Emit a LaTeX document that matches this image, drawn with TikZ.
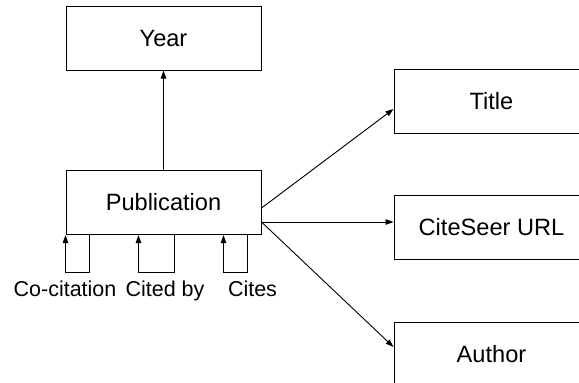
\documentclass[tikz,border=0pt]{standalone}
\usepackage{fontspec}
\setmainfont{Liberation Sans}
\usetikzlibrary{arrows.meta}
\begin{document}
\begin{tikzpicture}[x=1pt,y=-1pt,
  box/.style={draw=black,line width=1pt,minimum width=195pt,minimum height=64pt,inner sep=0pt,font=\fontsize{23.6}{28}\selectfont},
  lbl/.style={inner sep=0pt,anchor=base,font=\fontsize{21.5}{26}\selectfont},
  arr/.style={line width=0.9pt,-{Triangle[length=8pt,width=5.5pt]}},
  loopline/.style={line width=0.9pt,-{Triangle[length=8pt,width=5.5pt]}}]
\clip (0,0) rectangle (579,383);
\node[box] (year) at (163.5,38) {Year};
\node[box] (pub) at (163.5,202.5) {Publication};
\node[box] (title) at (491.5,101.5) {Title};
\node[box] (url) at (491.5,227.5) {CiteSeer URL};
\node[box] (author) at (491.5,354) {Author};
\draw[arr] (pub.north) -- (year.south);
\draw[arr] ([yshift=-5.5pt]pub.east) -- ([yshift=-7.5pt]title.west);
\draw[arr] ([yshift=-19.5pt]pub.east) -- ([yshift=5.5pt]url.west);
\draw[arr] ([yshift=-19.5pt]pub.east) -- ([yshift=7pt]author.west);
\draw[loopline] ([xshift=24pt]pub.south west) -- ++(0,37) -| (pub.south west);
\draw[loopline] ([xshift=109pt]pub.south west) -- ++(0,37) -| ([xshift=73pt]pub.south west);
\draw[loopline] ([xshift=182pt]pub.south west) -- ++(0,37) -| ([xshift=158pt]pub.south west);
\node[lbl] (lco) at (65,296) {Co-citation};
\node[lbl] (lcb) at (165,296) {Cited by};
\node[lbl] (lci) at (252.5,296) {Cites};
\end{tikzpicture}
\end{document}
